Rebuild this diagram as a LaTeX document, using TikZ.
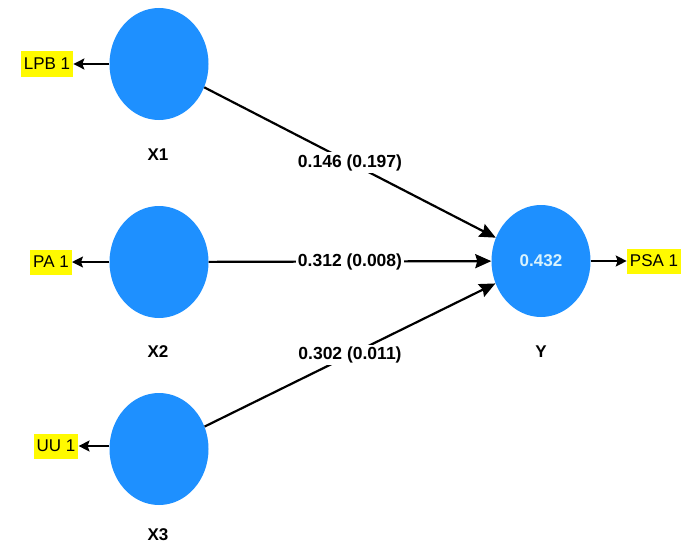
\documentclass[tikz,border=0pt]{standalone}
\usepackage{fontspec}
\setmainfont{Liberation Sans}
\usetikzlibrary{arrows.meta}
\usetikzlibrary{shapes.geometric}
\definecolor{lvblue}{RGB}{30,144,255}
\definecolor{mvyellow}{RGB}{255,250,0}

\begin{document}
\begin{tikzpicture}[x=1pt,y=-1pt,
    lv/.style={ellipse,fill=lvblue,minimum width=99pt,minimum height=112pt,inner sep=0pt},
    mv/.style={fill=mvyellow,inner xsep=3pt,inner ysep=0pt,minimum height=25pt,font=\fontsize{17}{19}\selectfont},
    lvname/.style={font=\fontsize{17}{19}\selectfont\bfseries},
    coef/.style={fill=white,inner sep=2pt,font=\fontsize{17.5}{19}\selectfont\bfseries}]
        % 余白
        \fill[white] (0,0) rectangle (685,551);
        \useasboundingbox (0,0) rectangle (685,551);

        % 潜在変数
        \node[lv] (x1) at (159,64) {};
        \node[lv] (x2) at (159,262) {};
        \node[lv] (x3) at (159,449) {};
        \node[lv,text=white!85!cyan,font=\fontsize{17}{19}\selectfont\bfseries] (y) at (541,261) {0.432};

        \node[lvname] at (158,155) {X1};
        \node[lvname] at (158,352) {X2};
        \node[lvname] at (158,535) {X3};
        \node[lvname] at (541,352) {Y};

        % 指標
        \node[mv] (lpb) at (47,64) {LPB 1};
        \node[mv] (pa) at (51,262) {PA 1};
        \node[mv] (uu) at (56,446) {UU 1};
        \node[mv] (psa) at (654,261) {PSA 1};

        \draw[->,>={Stealth[length=11pt,width=11pt,inset=2pt]},line width=1.6pt] (x1) -- (lpb);
        \draw[->,>={Stealth[length=11pt,width=11pt,inset=2pt]},line width=1.6pt] (x2) -- (pa);
        \draw[->,>={Stealth[length=11pt,width=11pt,inset=2pt]},line width=1.6pt] (x3.west |- uu) -- (uu);
        \draw[->,>={Stealth[length=11pt,width=11pt,inset=2pt]},line width=1.6pt] (y) -- (psa);

        % パス係数
        \draw[->,>={Stealth[length=16pt,width=14pt,inset=2pt]},line width=2.2pt] (x1) -- (y) node[coef,midway]{0.146 (0.197)};
        \draw[->,>={Stealth[length=16pt,width=14pt,inset=2pt]},line width=2.2pt] (x2) -- (y) node[coef,midway]{0.312 (0.008)};
        \draw[->,>={Stealth[length=16pt,width=14pt,inset=2pt]},line width=2.2pt] (x3) -- (y) node[coef,midway]{0.302 (0.011)};
      \end{tikzpicture}
\end{document}
